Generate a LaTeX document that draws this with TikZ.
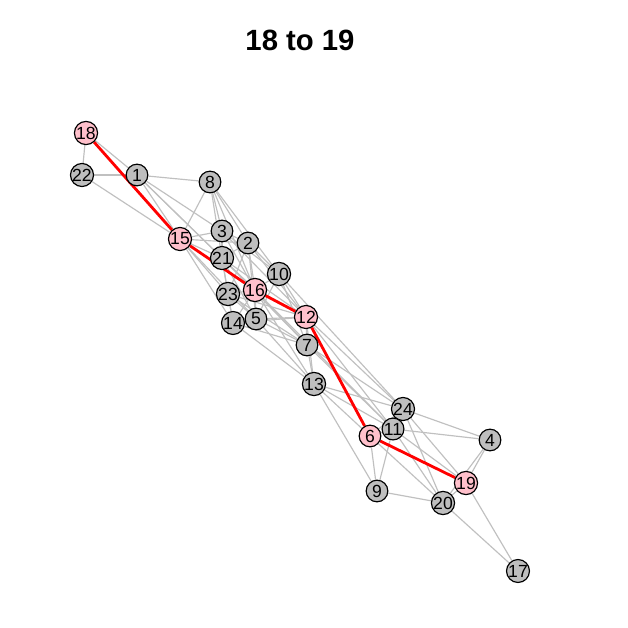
\documentclass[tikz,border=0pt]{standalone}
\usepackage{fontspec}
\setmainfont{Liberation Sans}
\usepackage{tikz}
\usetikzlibrary{backgrounds}
\definecolor{vgray}{HTML}{BEBEBE}
\definecolor{vpink}{HTML}{FFC0CB}
\definecolor{egray}{HTML}{C0C0C0}

\tikzset{
  vtx/.style={circle,draw=black,line width=1pt,fill=vgray,minimum size=0.65cm,inner sep=0pt,
    font=\fontsize{15}{15}\selectfont},
  onpath/.style={vtx,fill=vpink},
  edge/.style={egray,line width=1pt},
  pathedge/.style={red,line width=2.4pt}
}

\begin{document}
\begin{tikzpicture}[x=0.03cm, y=-0.03cm]
  \useasboundingbox (0,0) rectangle (628,628);

  % title
  \node[font=\bfseries\fontsize{25}{25}\selectfont] (title) at (300,40) {18 to 19};

  % vertices
  \foreach \n/\x/\y in {22/82/175, 1/137/175, 8/210/182, 3/222/231, 2/248/243,
      21/222/258, 10/279/274, 23/228/294, 5/256/319, 14/233/323, 7/307/345,
      13/314/384, 24/403/409, 11/393/429, 4/490/440, 9/377/491, 20/443/503, 17/518/571}
    \node[vtx] (v\n) at (\x,\y) {\n};
  \foreach \n/\x/\y in {18/86/133, 15/180/239, 16/255/290, 12/306/317, 6/370/436, 19/466/483}
    \node[onpath] (v\n) at (\x,\y) {\n};

  \begin{scope}[on background layer]
    % edges
    \foreach \a/\b in {18/22, 18/1, 22/1, 22/15, 1/8, 1/15, 1/3, 1/21, 1/16,
        8/15, 8/3, 8/2, 8/21, 8/10, 8/16,
        15/3, 15/2, 15/21, 15/23, 15/14, 15/5,
        3/2, 3/21, 3/16, 3/10, 3/12,
        2/21, 2/10, 2/16, 2/5, 2/12, 2/23,
        21/23, 21/16, 21/14, 21/5, 21/12, 21/7,
        10/16, 10/12, 10/5, 10/7, 10/24,
        16/23, 16/5, 16/14, 16/7, 16/13, 16/11,
        23/14, 23/5, 23/12, 23/7,
        14/5, 14/12, 14/7, 14/13,
        5/12, 5/7, 5/13,
        12/7, 12/24, 12/11, 12/13,
        7/13, 7/24, 7/11,
        13/24, 13/11, 13/9, 13/6,
        24/4, 24/11, 24/20, 24/19, 24/6,
        11/6, 11/4, 11/9, 11/20, 11/19,
        6/9, 6/20, 9/20, 20/19, 4/19, 4/20, 19/17, 20/17}
      \draw[edge] (v\a) -- (v\b);

    % shortest path
    \foreach \a/\b in {18/15, 15/16, 16/12, 12/6, 6/19}
      \draw[pathedge] (v\a) -- (v\b);
  \end{scope}
\end{tikzpicture}
\end{document}
